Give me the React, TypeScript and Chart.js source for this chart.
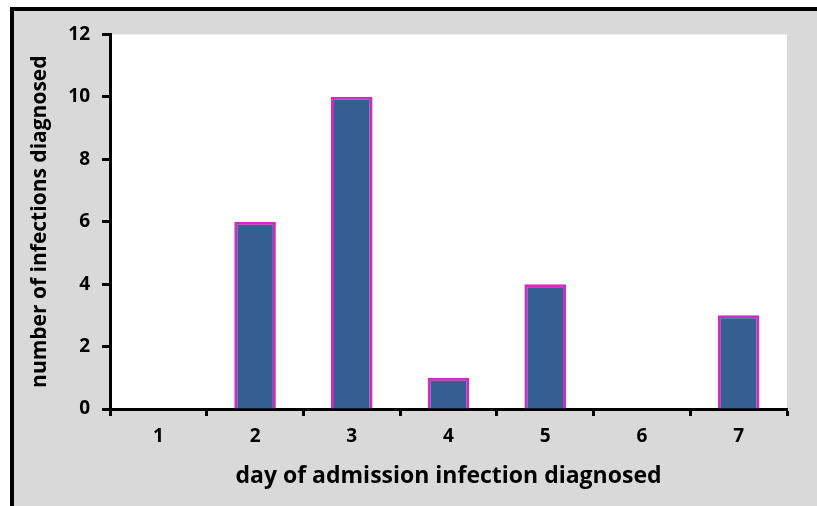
import React, { useEffect, useRef } from "react";
import { Chart, registerables } from "chart.js";

Chart.register(...registerables);

const days = ["1", "2", "3", "4", "5", "6", "7"];
const infections = [0, 6, 10, 1, 4, 0, 3];
const yMin = 0;
const yMax = 12;
const yStep = 2;
const xTitle = "day of admission infection diagnosed";
const yTitle = "number of infections diagnosed";

const FONT = "'Open Sans', Lato, sans-serif";

const plotBg = {
  id: "plotBg",
  beforeDraw(chart: any) {
    const { ctx, chartArea } = chart;
    ctx.save();
    ctx.fillStyle = "#ffffff";
    ctx.fillRect(chartArea.left, chartArea.top, chartArea.right - chartArea.left, chartArea.bottom - chartArea.top);
    ctx.restore();
  },
};

export default function App() {
  const ref = useRef<HTMLCanvasElement | null>(null);

  useEffect(() => {
    if (!ref.current) return;
    const chart = new Chart(ref.current, {
      type: "bar",
      data: {
        labels: days,
        datasets: [
          {
            data: infections,
            backgroundColor: "#365F91",
            borderColor: "#CF2CC4",
            borderWidth: 3,
            barPercentage: 0.43,
            categoryPercentage: 1,
          },
        ],
      },
      options: {
        responsive: false,
        animation: false,
        devicePixelRatio: 1,
        layout: { padding: { top: 19, right: 30, left: 0, bottom: 0 } },
        plugins: { legend: { display: false }, tooltip: { enabled: false } },
        scales: {
          x: {
            offset: true,
            grid: {
              offset: true,
              drawOnChartArea: false,
              drawTicks: true,
              tickLength: 7,
              tickColor: "#000",
              tickWidth: 3,
            },
            border: { display: true, color: "#000", width: 3 },
            ticks: {
              color: "#000",
              padding: 9,
              font: { family: FONT, size: 19, weight: "bold" },
            },
            title: {
              display: true,
              text: xTitle,
              color: "#000",
              padding: { top: 0, bottom: 16 },
              font: { family: FONT, size: 23, weight: "bold" },
            },
            afterFit(scale: any) {
              scale.height = 97;
            },
          },
          y: {
            min: yMin,
            max: yMax,
            ticks: {
              stepSize: yStep,
              color: "#000",
              padding: 12,
              font: { family: FONT, size: 19, weight: "bold" },
            },
            grid: {
              drawOnChartArea: false,
              drawTicks: true,
              tickLength: 8,
              tickColor: "#000",
              tickWidth: 3,
            },
            border: { display: true, color: "#000", width: 3 },
            title: {
              display: true,
              text: yTitle,
              color: "#000",
              padding: { top: 13, bottom: 0 },
              font: { family: FONT, size: 21, weight: "bold" },
            },
            afterFit(scale: any) {
              scale.width = 96;
            },
          },
        },
      },
      plugins: [plotBg],
    } as any);
    return () => chart.destroy();
  }, []);

  return (
    <div style={{ position: "fixed", left: 0, top: 0, width: 817, height: 506, background: "#fff", overflow: "hidden" }}>
      <div
        style={{
          position: "absolute",
          left: 10,
          top: 7,
          width: 807,
          height: 499,
          boxSizing: "border-box",
          borderLeft: "4px solid #000",
          borderTop: "4px solid #000",
          background: "#D9D9D9",
        }}
      >
        <canvas ref={ref} width={803} height={495} style={{ display: "block", width: 803, height: 495 }} />
      </div>
    </div>
  );
}
